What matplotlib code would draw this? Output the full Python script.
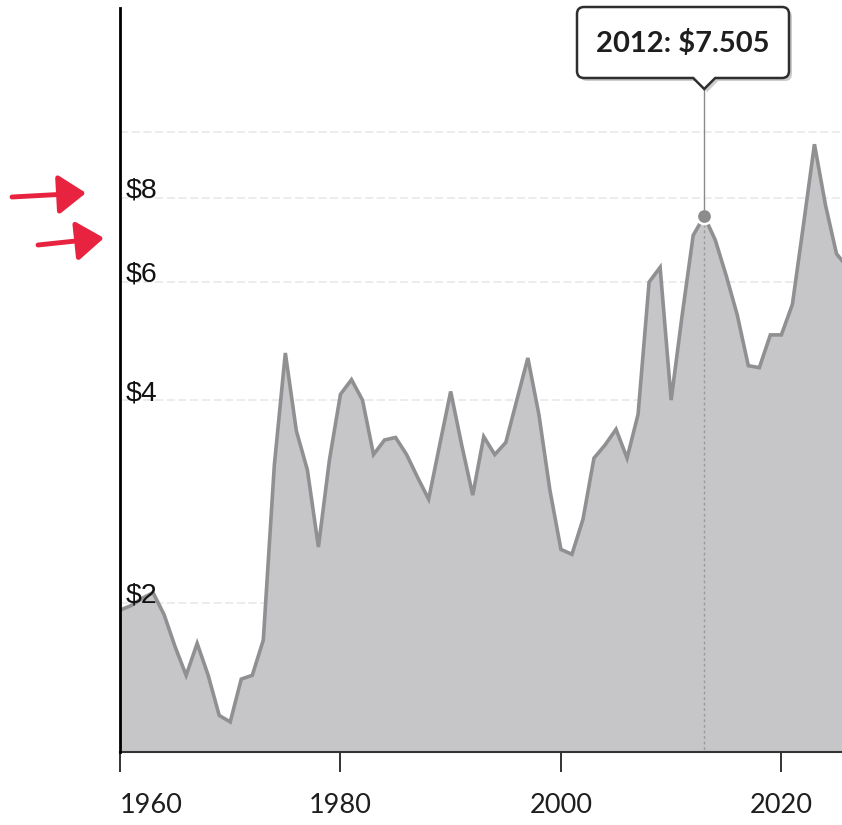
import matplotlib
matplotlib.use("Agg")
import matplotlib.pyplot as plt
from matplotlib.path import Path
from matplotlib.patches import PathPatch
from matplotlib.lines import Line2D
from matplotlib.transforms import IdentityTransform, blended_transform_factory
from matplotlib.ticker import NullLocator, FixedLocator, NullFormatter

# yearly price
years = list(range(1960, 2027))
prices = [1.95, 1.98, 2.03, 2.07, 1.92, 1.72, 1.56, 1.74, 1.56, 1.36,
          1.33, 1.54, 1.56, 1.76, 3.20, 4.70, 3.60, 3.15, 2.42, 3.26,
          4.08, 4.29, 4.00, 3.32, 3.49, 3.52, 3.32, 3.07, 2.85, 3.43,
          4.12, 3.43, 2.89, 3.53, 3.32, 3.46, 4.00, 4.62, 3.81, 2.94,
          2.40, 2.36, 2.66, 3.28, 3.43, 3.62, 3.28, 3.81, 5.99, 6.30,
          4.00, 5.35, 7.03, 7.505, 6.92, 6.12, 5.35, 4.50, 4.47, 5.00,
          5.00, 5.55, 7.28, 9.60, 7.80, 6.60, 6.30]

grid_vals = [2, 4, 6, 8, 10]
label_vals = [2, 4, 6, 8]
label_txt = ["\\$2", "\\$4", "\\$6", "\\$8"]
xticks = [1960, 1980, 2000, 2020]

tip_year = 2013
tip_text = "2012: \\$7.505"

W, H = 842, 825
fig = plt.figure(figsize=(W / 100, H / 100), dpi=100)
fig.patch.set_facecolor("white")
ax = fig.add_axes([120 / W, 1 - 752 / H, 722 / W, 744 / H])

ax.set_yscale("log")
ax.set_ylim(1.2, 15.3)
ax.set_xlim(1960, 2025.5)

# area
ax.fill_between(years, prices, 1.0, color="#c6c6c8", lw=0, zorder=2)
ax.plot(years, prices, color="#909092", lw=2.6, solid_joinstyle="miter", zorder=3)

# grid
ax.yaxis.set_major_locator(FixedLocator(grid_vals))
ax.yaxis.set_minor_locator(NullLocator())
ax.yaxis.set_major_formatter(NullFormatter())
ax.yaxis.set_minor_formatter(NullFormatter())
ax.tick_params(axis="y", length=0)
ax.grid(axis="y", color="#e9e9e9", lw=1.2, ls=(0, (5, 2)), zorder=1)

trans = blended_transform_factory(ax.transAxes, ax.transData)
for v, t in zip(label_vals, label_txt):
    ax.text(0.008, v, t, transform=trans, ha="left", va="baseline",
            fontsize=20.5, family="Liberation Sans", color="#111111", zorder=6)

# x axis
ax.set_xticks(xticks)
ax.set_xticklabels([str(x) for x in xticks], fontsize=19.5, family="Lato", color="#1e1e1e")
ax.xaxis.get_majorticklabels()[0].set_horizontalalignment("left")
ax.tick_params(axis="x", direction="out", length=14.5, width=1.4, color="#333333", pad=15)

for s in ["top", "right"]:
    ax.spines[s].set_visible(False)
ax.spines["left"].set_color("black")
ax.spines["left"].set_linewidth(2)
ax.spines["bottom"].set_color("#333333")
ax.spines["bottom"].set_linewidth(1.5)
ax.spines["left"].set_zorder(7)

# hover point
i = years.index(tip_year)
tx, ty = years[i], prices[i]
ax.vlines(tx, 1.0, ty, colors="#9a9a9a", lw=1, linestyles=(0, (2, 2)), zorder=4)
ax.plot(tx, ty, "o", ms=11, mfc="#8c8c8c", mec="white", mew=1.8, zorder=8, clip_on=False)

fig.canvas.draw()
px, py = ax.transData.transform((tx, ty))

# tooltip box with pointer (display pixels)
bx0, bx1 = 577, 789
by0, by1 = H - 78, H - 7
r = 7
tip_y = H - 89
pw = 11
verts = [
    (bx0 + r, by0), (px - pw, by0), (px, tip_y), (px + pw, by0), (bx1 - r, by0),
    (bx1, by0), (bx1, by0 + r),
    (bx1, by1 - r),
    (bx1, by1), (bx1 - r, by1),
    (bx0 + r, by1),
    (bx0, by1), (bx0, by1 - r),
    (bx0, by0 + r),
    (bx0, by0), (bx0 + r, by0),
]
codes = [Path.MOVETO, Path.LINETO, Path.LINETO, Path.LINETO, Path.LINETO,
         Path.CURVE3, Path.CURVE3,
         Path.LINETO,
         Path.CURVE3, Path.CURVE3,
         Path.LINETO,
         Path.CURVE3, Path.CURVE3,
         Path.LINETO,
         Path.CURVE3, Path.CURVE3]
shadow = Path([(x + 3, y - 3) for x, y in verts], codes)
fig.add_artist(PathPatch(shadow, transform=IdentityTransform(), fc="#000000",
                         alpha=0.2, lw=0, zorder=9))
fig.add_artist(PathPatch(Path(verts, codes), transform=IdentityTransform(), fc="white",
                         ec="#2e2e2e", lw=1.8, zorder=10))
fig.add_artist(Line2D([px, px], [py + 7, tip_y], transform=IdentityTransform(),
                      color="#8a8a8a", lw=1, zorder=9))
fig.text((bx0 + bx1) / 2 / W, ((by0 + by1) / 2 - 1) / H, tip_text, ha="center", va="center",
         fontsize=21, family="Lato", weight="bold", color="#1e1e1e", zorder=11)

# red hand arrows
red = "#e8233f"
for tail, head in [((12, H - 197), (86, H - 193)), ((38, H - 245), (104, H - 238))]:
    ax.annotate("", xy=head, xytext=tail, xycoords="figure pixels",
                textcoords="figure pixels", annotation_clip=False,
                arrowprops=dict(arrowstyle="-|>,head_length=0.7,head_width=0.5",
                                color=red, lw=3.5, mutation_scale=24, shrinkA=0, shrinkB=0))

fig.savefig("out.png", dpi=100, facecolor="white")
